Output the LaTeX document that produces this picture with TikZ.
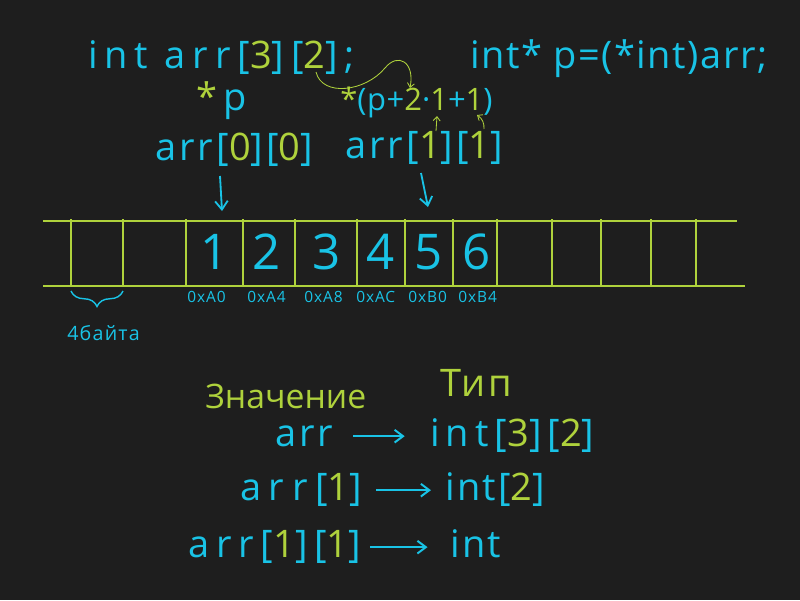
\documentclass[tikz,border=0pt]{standalone}
\usepackage{fontspec}
\setmainfont{Open Sans}[LetterSpace=6]
\usetikzlibrary{decorations.pathreplacing,arrows.meta}
\definecolor{bg}{RGB}{30,30,30}
\definecolor{cy}{RGB}{25,195,230}
\definecolor{lm}{RGB}{175,210,60}
\newcommand\G[1]{\textcolor{lm}{#1}}
\newcommand\LS[1]{\addfontfeature{LetterSpace=#1}}
\begin{document}
\begin{tikzpicture}[x=0.025cm,y=-0.025cm,
  txt/.style={text=cy,inner sep=0pt,anchor=base west},
  big/.style={txt,font=\fontsize{27}{30}\selectfont},
  mid/.style={txt,font=\fontsize{22}{26}\selectfont},
  dig/.style={text=cy,inner sep=0pt,anchor=center,font=\fontsize{35}{36}\selectfont},
  addr/.style={txt,font=\fontsize{11}{12}\selectfont},
  ttl/.style={txt,text=lm,font=\fontsize{24}{30}\selectfont},
  strip/.style={draw=lm,line width=1.4pt},
  cyarr/.style={draw=cy,line width=1.3pt,-{Straight Barb[length=6pt,width=9pt]}},
  lmarr/.style={draw=lm,line width=0.6pt,-{Straight Barb[length=3pt,width=5pt]}},
  rowarr/.style={draw=cy,line width=1.4pt,-{Straight Barb[length=6pt,width=9pt]}}]
\fill[bg] (0,0) rectangle (800,600);
\useasboundingbox (0,0) rectangle (800,600);

% top declarations
\node[big] (decl) at (88,68) {\LS{18}int arr[\G{3}][\G{2}];};
\node[big] (ptr) at (470,68) {\LS{4}int* p=(*int)arr;};

% element expressions
\node[big] (sp) at (196,110) {\G{*}\,p};
\node[big] (a00) at (155,160) {\LS{8}arr[\G{0}][\G{0}]};
\node[mid] (expr) at (340,110) {\LS{2}\G{*}(p+\G{2}·\G{1}+\G{1})};
\node[big] (a11) at (345,158) {\LS{8}arr[\G{1}][\G{1}]};

% memory strip
\draw[strip] (43,221) -- (737,221);
\draw[strip] (43,286) -- (745,286);
\foreach \x in {71,123,186,243,295,357,405,453,497,552,601,651,696}
  \draw[strip] (\x,219) -- (\x,287);

\node[dig] (n1) at (215,252) {1};
\node[dig] (n2) at (267,252) {2};
\node[dig] (n3) at (327,252) {3};
\node[dig] (n4) at (381,252) {4};
\node[dig] (n5) at (429,252) {5};
\node[dig] (n6) at (477,252) {6};

\node[addr] (m1) at (187,302) {0xA0};
\node[addr] (m2) at (247,302) {0xA4};
\node[addr] (m3) at (304,302) {0xA8};
\node[addr] (m4) at (356,302) {0xAC};
\node[addr] (m5) at (408,302) {0xB0};
\node[addr] (m6) at (458,302) {0xB4};

% brace
\coordinate (bl) at (71,291);
\coordinate (br) at (123,291);
\draw[draw=cy,line width=1pt,decorate,decoration={brace,amplitude=11pt,mirror}] (bl) -- (br);
\node[txt,font=\fontsize{14}{16}\selectfont] (bytes) at (67,340) {4байта};

% down arrows
\coordinate (s1) at (220,176);
\coordinate (e1) at (222,211);
\coordinate (s2) at (421,173);
\coordinate (e2) at (428,207);
\draw[cyarr] (s1) -- (e1);
\draw[cyarr] (s2) -- (e2);

% lime arrows
\coordinate (c0) at (316,72);
\coordinate (c1) at (410,88);
\draw[lmarr] (c0) .. controls (322,97) and (365,92) .. (385,68)
  .. controls (398,52) and (415,62) .. (c1);
\coordinate (u1s) at (436,131);
\coordinate (u1e) at (437,116);
\draw[lmarr] (u1s) -- (u1e);
\coordinate (u2s) at (484,129);
\coordinate (u2e) at (477,115);
\draw[lmarr] (u2s) to[bend right=30] (u2e);

% titles
\node[ttl] (val) at (205,408) {\LS{0}Значение};
\node[ttl,font=\fontsize{27}{30}\selectfont] (typ) at (440,396) {Тип};

% rows
\node[big] (r1a) at (275,446) {\LS{8}arr};
\node[big] (r1b) at (430,446) {\LS{16}int[\G{3}][\G{2}]};
\draw[rowarr] ([xshift=14,yshift=7]r1a.base east) -- ([xshift=-18,yshift=7]r1b.base west);

\node[big] (r2a) at (240,500) {\LS{20}arr[\G{1}]};
\node[big] (r2b) at (445,500) {\LS{6}int[\G{2}]};
\draw[rowarr] ([xshift=10,yshift=7]r2a.base east) -- ([xshift=-10,yshift=7]r2b.base west);

\node[big] (r3a) at (188,557) {\LS{18}arr[\G{1}][\G{1}]};
\node[big] (r3b) at (450,557) {\LS{6}int};
\draw[rowarr] ([xshift=6,yshift=7]r3a.base east) -- ([xshift=-16,yshift=7]r3b.base west);
\end{tikzpicture}
\end{document}
